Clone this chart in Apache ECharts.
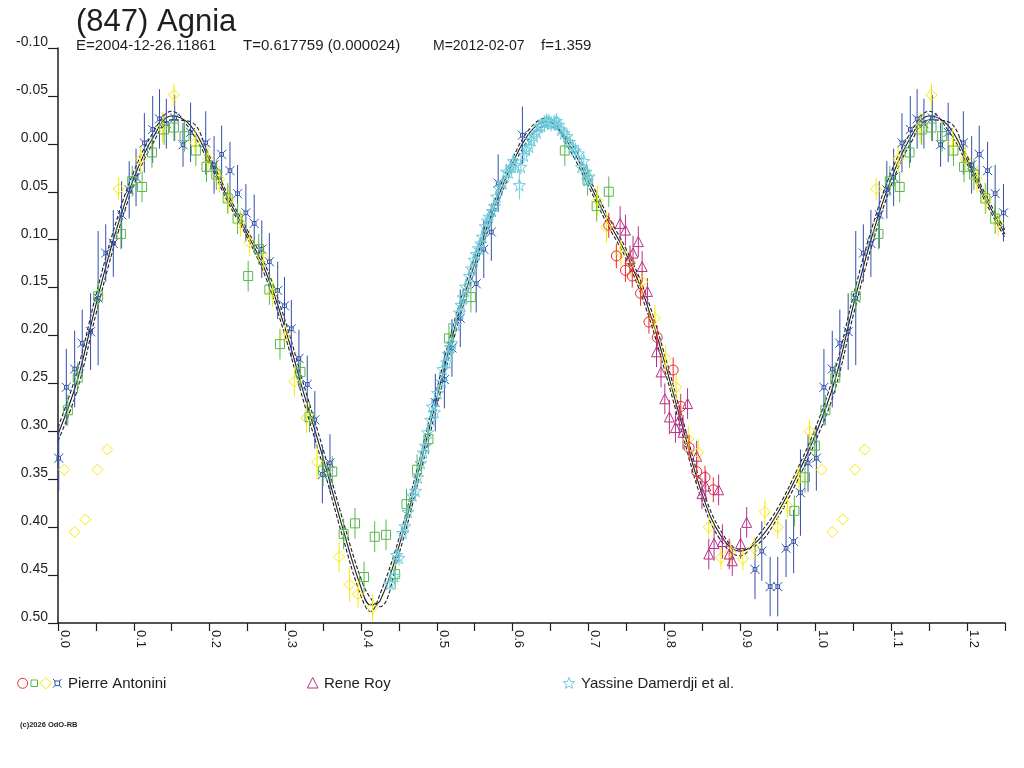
<!DOCTYPE html>
<html>
<head>
<meta charset="utf-8">
<title>(847) Agnia</title>
<script src="https://cdn.jsdelivr.net/npm/echarts@6/dist/echarts.min.js"></script>
<style>
  html, body { margin: 0; padding: 0; background: #fff; }
  #chart { width: 1024px; height: 768px; }
</style>
</head>
<body>
<div id="chart"></div>
<script>
// lightcurve (847) Agnia - phase / relative magnitude
// each point: [phase, mag, error]

const xTicks = { min: 0, max: 1.25, step: 0.05 };
const yTicks = { min: -0.10, max: 0.50, step: 0.05 };

// Pierre Antonini, session 1 (red circles)
const antoniniRed = [
  [0.727,0.085,0.013],[0.737,0.117,0.013],[0.749,0.132,0.012],[0.758,0.138,0.012],
  [0.769,0.156,0.013],[0.780,0.186,0.012],[0.791,0.202,0.012],[0.812,0.236,0.013],
  [0.822,0.274,0.013],[0.833,0.317,0.013],[0.843,0.342,0.012],[0.854,0.348,0.012],
  [0.865,0.361,0.013]
];

// Pierre Antonini, session 2 (green squares)
const antoniniGreen = [
  [0.013,0.278,0.016],[0.026,0.244,0.016],[0.053,0.159,0.016],[0.083,0.094,0.016],
  [0.098,0.039,0.016],[0.111,0.045,0.016],[0.124,0.009,0.016],[0.140,-0.015,0.016],
  [0.153,-0.017,0.014],[0.167,-0.008,0.016],[0.182,0.007,0.016],[0.196,0.024,0.016],
  [0.209,0.032,0.016],[0.224,0.057,0.016],[0.237,0.078,0.016],[0.251,0.138,0.016],
  [0.265,0.110,0.016],[0.279,0.152,0.016],[0.293,0.209,0.016],[0.320,0.238,0.016],
  [0.332,0.285,0.016],[0.350,0.341,0.016],[0.362,0.342,0.016],[0.377,0.407,0.016],
  [0.392,0.396,0.016],[0.404,0.452,0.016],[0.418,0.410,0.016],[0.433,0.408,0.016],
  [0.445,0.449,0.016],[0.460,0.376,0.016],[0.474,0.340,0.016],[0.489,0.308,0.016],
  [0.516,0.203,0.016],[0.545,0.160,0.016],[0.669,0.007,0.016],[0.699,0.038,0.016],
  [0.711,0.065,0.016],[0.727,0.050,0.016],[0.972,0.383,0.016],[0.986,0.348,0.016],
  [0.999,0.315,0.016]
];

// Pierre Antonini, session 3 (yellow diamonds)
const antoniniYellow = [
  [0.008,0.340,0],[0.022,0.405,0],[0.036,0.392,0],[0.052,0.340,0],[0.065,0.319,0],
  [0.080,0.047,0.012],[0.109,0.016,0.014],[0.138,-0.017,0.016],[0.153,-0.051,0.012],
  [0.181,-0.001,0.014],[0.198,0.016,0.014],[0.213,0.037,0.014],[0.225,0.058,0.014],
  [0.241,0.083,0.014],[0.253,0.103,0.014],[0.271,0.119,0.014],[0.283,0.156,0.014],
  [0.299,0.201,0.012],[0.312,0.248,0.016],[0.328,0.286,0.016],[0.342,0.332,0.018],
  [0.371,0.431,0.016],[0.385,0.460,0.018],[0.396,0.470,0.014],[0.415,0.484,0.014],
  [0.712,0.059,0.016],[0.724,0.087,0.016],[0.743,0.114,0.014],[0.756,0.124,0.014],
  [0.771,0.144,0.014],[0.788,0.182,0.014],[0.802,0.224,0.014],[0.816,0.254,0.014],
  [0.832,0.308,0.014],[0.845,0.322,0.014],[0.859,0.400,0.011],[0.875,0.432,0.012],
  [0.888,0.426,0.012],[0.904,0.433,0.012],[0.919,0.422,0.012],[0.933,0.384,0.013],
  [0.950,0.400,0.012],[0.963,0.378,0.012],[0.978,0.349,0.012],[0.992,0.300,0.012]
];

// Pierre Antonini, session 4 (blue)
const antoniniBlue = [
  [0.001,0.328,0.034],[0.011,0.254,0.04],[0.022,0.235,0.04],[0.032,0.208,0.035],
  [0.043,0.196,0.04],[0.053,0.161,0.07],[0.063,0.114,0.03],[0.073,0.104,0.035],
  [0.084,0.074,0.035],[0.094,0.048,0.03],[0.103,0.035,0.03],[0.114,-0.001,0.031],
  [0.125,-0.015,0.035],[0.134,-0.026,0.031],[0.143,-0.021,0.026],[0.154,-0.027,0.024],
  [0.165,0.001,0.023],[0.175,-0.012,0.031],[0.195,-0.001,0.033],[0.206,0.022,0.03],
  [0.216,0.011,0.03],[0.227,0.028,0.03],[0.237,0.052,0.03],[0.248,0.072,0.03],
  [0.259,0.083,0.03],[0.269,0.110,0.03],[0.279,0.123,0.03],[0.290,0.153,0.03],
  [0.299,0.169,0.03],[0.308,0.193,0.03],[0.318,0.224,0.03],[0.329,0.251,0.03],
  [0.339,0.288,0.03],[0.349,0.345,0.03],[0.359,0.333,0.03],
  [0.498,0.270,0.03],[0.510,0.246,0.03],[0.520,0.213,0.03],[0.531,0.182,0.03],
  [0.552,0.146,0.03],[0.562,0.110,0.03],[0.572,0.092,0.03],[0.581,0.041,0.03],
  [0.613,-0.009,0.03],
  [0.920,0.444,0.031],[0.929,0.425,0.031],[0.940,0.462,0.031],[0.950,0.462,0.031],
  [0.961,0.422,0.03],[0.971,0.415,0.033],[0.980,0.364,0.045],[0.990,0.333,0.03]
];

// Rene Roy (triangles)
const reneRoy = [
  [0.742,0.083,0.018],[0.749,0.090,0.016],[0.755,0.120,0.014],[0.759,0.114,0.018],
  [0.766,0.102,0.016],[0.771,0.128,0.016],[0.778,0.154,0.014],[0.790,0.217,0.016],
  [0.796,0.238,0.016],[0.801,0.266,0.016],[0.807,0.285,0.018],[0.815,0.296,0.016],
  [0.820,0.288,0.016],[0.825,0.301,0.018],[0.831,0.271,0.016],[0.843,0.326,0.016],
  [0.850,0.365,0.016],[0.855,0.357,0.016],[0.859,0.428,0.016],[0.866,0.417,0.018],
  [0.872,0.361,0.016],[0.877,0.415,0.018],[0.886,0.428,0.016],[0.890,0.435,0.016],
  [0.901,0.417,0.016],[0.909,0.395,0.016]
];

// Yassine Damerdji et al. (stars)
const damerdji = [
  [0.438,0.459,0.008],[0.444,0.451,0.008],[0.447,0.429,0.008],[0.450,0.432,0.008],
  [0.455,0.406,0.008],[0.458,0.399,0.008],[0.462,0.384,0.008],[0.468,0.367,0.008],
  [0.472,0.362,0.008],[0.475,0.348,0.008],[0.479,0.333,0.008],[0.482,0.322,0.008],
  [0.485,0.315,0.008],[0.488,0.301,0.008],[0.492,0.288,0.008],[0.494,0.274,0.008],
  [0.497,0.280,0.008],[0.501,0.260,0.008],[0.507,0.248,0.008],[0.508,0.235,0.008],
  [0.513,0.228,0.008],[0.515,0.219,0.008],[0.518,0.212,0.008],[0.520,0.208,0.008],
  [0.525,0.189,0.008],[0.530,0.176,0.008],[0.532,0.168,0.008],[0.535,0.160,0.008],
  [0.538,0.149,0.008],[0.543,0.138,0.008],[0.546,0.130,0.008],[0.549,0.121,0.008],
  [0.552,0.115,0.008],[0.555,0.109,0.008],[0.558,0.104,0.008],[0.560,0.097,0.008],
  [0.564,0.086,0.008],[0.567,0.080,0.008],[0.569,0.076,0.008],[0.573,0.070,0.008],
  [0.576,0.065,0.008],[0.579,0.055,0.008],[0.582,0.046,0.008],[0.587,0.041,0.008],
  [0.592,0.029,0.008],[0.595,0.030,0.008],[0.598,0.024,0.008],[0.601,0.018,0.008],
  [0.604,0.022,0.008],[0.609,0.043,0.015],[0.611,0.024,0.008],[0.615,0.012,0.008],
  [0.618,0.006,0.008],[0.622,0.003,0.008],[0.625,-0.004,0.008],[0.628,-0.008,0.008],
  [0.632,-0.012,0.008],[0.635,-0.018,0.008],[0.638,-0.019,0.008],[0.642,-0.022,0.008],
  [0.645,-0.024,0.008],[0.648,-0.023,0.008],[0.651,-0.021,0.008],[0.655,-0.022,0.008],
  [0.658,-0.024,0.008],[0.661,-0.020,0.008],[0.664,-0.015,0.008],[0.668,-0.011,0.008],
  [0.672,-0.008,0.008],[0.675,-0.002,0.008],[0.679,0.003,0.008],[0.683,0.007,0.008],
  [0.687,0.010,0.008],[0.691,0.024,0.008],[0.694,0.018,0.008],[0.697,0.029,0.008],
  [0.699,0.038,0.008],[0.701,0.034,0.008]
];

// fitted curve and its two envelope curves
const curvePhase = [0.000,0.025,0.050,0.075,0.100,0.125,0.150,0.175,0.200,0.225,0.250,0.275,0.300,
  0.325,0.350,0.375,0.400,0.4125,0.425,0.450,0.475,0.500,0.525,0.550,0.575,0.600,0.625,0.645,
  0.675,0.700,0.725,0.750,0.775,0.800,0.825,0.850,0.875,0.900,0.925,0.950,0.975,1.000];
const curveMid = [0.303,0.248,0.168,0.095,0.036,-0.006,-0.029,-0.019,0.017,0.058,0.094,0.135,0.193,
  0.262,0.328,0.399,0.463,0.481,0.477,0.420,0.345,0.265,0.188,0.125,0.068,0.020,-0.014,-0.023,
  0.001,0.039,0.079,0.115,0.162,0.226,0.297,0.365,0.409,0.425,0.413,0.385,0.347,0.303];
const curveUpper = [0.296,0.238,0.158,0.086,0.029,-0.011,-0.034,-0.014,0.021,0.062,0.098,0.141,0.201,
  0.271,0.337,0.408,0.472,0.488,0.470,0.412,0.336,0.256,0.180,0.118,0.062,0.015,-0.018,-0.027,
  0.006,0.044,0.084,0.120,0.169,0.234,0.305,0.372,0.414,0.430,0.408,0.380,0.341,0.296];
const curveLower = [0.310,0.258,0.178,0.104,0.043,0.000,-0.025,-0.023,0.013,0.054,0.090,0.129,0.185,
  0.253,0.319,0.390,0.454,0.474,0.483,0.428,0.354,0.274,0.196,0.132,0.074,0.026,-0.009,-0.019,
  -0.003,0.034,0.074,0.110,0.155,0.218,0.289,0.358,0.404,0.423,0.417,0.390,0.353,0.310];

const INK = '#1e1e1e';
const FONT = '"Liberation Sans", Arial, sans-serif';
const colors = {
  red: '#ee2a2a', green: '#55b848', yellow: '#f8ea00', blue: '#3050a8',
  magenta: '#b83088', cyan: '#6ccbdc'
};

// phases are drawn once more past 1.0 (up to 1.25)
const wrap = arr => arr.concat(
  arr.filter(d => d[0] > 0 && d[0] + 1 <= xTicks.max).map(d => [d[0] + 1, d[1], d[2]])
);
const curvePoints = mags => wrap(curvePhase.map((p, i) => [p, mags[i], 0])).map(d => [d[0], d[1]]);

const bluePath = 'path://M0,0L3,3M10,0L7,3M0,10L3,7M10,10L7,7M3,3L7,3L7,7L3,7Z';
const starPath = 'path://M5,0L6.2,3.6L10,3.8L7,6.1L8.1,9.8L5,7.6L1.9,9.8L3,6.1L0,3.8L3.8,3.6Z';

function errorSeries(arr, color) {
  return {
    type: 'custom',
    silent: true,
    z: 2,
    data: wrap(arr).filter(d => d[2] > 0).map(d => [d[0], d[1] - d[2], d[1] + d[2]]),
    encode: { x: 0, y: [1, 2] },
    renderItem: (params, api) => {
      const a = api.coord([api.value(0), api.value(1)]);
      const b = api.coord([api.value(0), api.value(2)]);
      return {
        type: 'line',
        shape: { x1: a[0], y1: a[1], x2: b[0], y2: b[1] },
        style: { stroke: color, lineWidth: 1 }
      };
    }
  };
}

function pointSeries(name, arr, color, symbol, size) {
  return {
    name,
    type: 'scatter',
    z: 3,
    symbol,
    symbolSize: size,
    data: wrap(arr).map(d => [d[0], d[1]]),
    itemStyle: { color: 'rgba(0,0,0,0)', borderColor: color, borderWidth: 1, opacity: 1 }
  };
}

function curveSeries(mags, dashed) {
  return {
    type: 'line',
    z: 1,
    silent: true,
    smooth: 0.4,
    showSymbol: false,
    data: curvePoints(mags),
    lineStyle: { color: INK, width: 1.1, type: dashed ? [4, 2] : 'solid' }
  };
}

// star for the legend
const starPts = [];
for (let i = 0; i < 10; i++) {
  const r = i % 2 === 0 ? 6 : 2.6;
  const a = -Math.PI / 2 + i * Math.PI / 5;
  starPts.push([569 + r * Math.cos(a), 683.5 + r * Math.sin(a)]);
}

const chart = echarts.init(document.getElementById('chart'));
const option = {
  backgroundColor: '#fff',
  animation: false,
  grid: { left: 58, right: 19, top: 48, bottom: 145, containLabel: false },
  xAxis: {
    type: 'value',
    min: xTicks.min, max: xTicks.max, interval: xTicks.step,
    splitLine: { show: false },
    axisLine: { onZero: false, lineStyle: { color: INK, width: 1.5 } },
    axisTick: { length: 8, lineStyle: { color: INK, width: 1.2 } },
    axisLabel: {
      rotate: -90, margin: 7, align: 'left', verticalAlign: 'bottom',
      color: INK, fontFamily: FONT, fontSize: 13,
      formatter: v => {
        const k = Math.round(v / xTicks.step);
        return k % 2 === 0 ? (k * xTicks.step).toFixed(1) : '';
      }
    }
  },
  yAxis: {
    type: 'value',
    inverse: true,
    min: yTicks.min, max: yTicks.max, interval: yTicks.step,
    splitLine: { show: false },
    axisLine: { onZero: false, lineStyle: { color: INK, width: 1.5 } },
    axisTick: { length: 10, lineStyle: { color: INK, width: 1.2 } },
    axisLabel: {
      margin: 10, verticalAlign: 'bottom', lineHeight: 12,
      color: INK, fontFamily: FONT, fontSize: 14,
      formatter: v => (Math.abs(v) < 1e-9 ? 0 : v).toFixed(2)
    }
  },
  series: [
    curveSeries(curveUpper, true),
    curveSeries(curveLower, true),
    curveSeries(curveMid, false),
    errorSeries(antoniniBlue, colors.blue),
    errorSeries(antoniniGreen, colors.green),
    errorSeries(antoniniYellow, colors.yellow),
    errorSeries(antoniniRed, colors.red),
    errorSeries(reneRoy, colors.magenta),
    errorSeries(damerdji, colors.cyan),
    pointSeries('Antonini 4', antoniniBlue, colors.blue, bluePath, 9),
    pointSeries('Antonini 2', antoniniGreen, colors.green, 'rect', 9),
    pointSeries('Antonini 3', antoniniYellow, colors.yellow, 'diamond', 11),
    pointSeries('Antonini 1', antoniniRed, colors.red, 'circle', 10),
    pointSeries('Rene Roy', reneRoy, colors.magenta, 'triangle', 10),
    pointSeries('Yassine Damerdji et al.', damerdji, colors.cyan, starPath, 12)
  ],
  graphic: [
    { type: 'text', left: 76, top: 7, style: { text: '(847) Agnia', font: '31px ' + FONT, fill: INK } },
    { type: 'text', x: 76, y: 46, style: { text: 'E=2004-12-26.11861', font: '15px ' + FONT, fill: INK, textVerticalAlign: 'middle' } },
    { type: 'text', x: 243, y: 46, style: { text: 'T=0.617759 (0.000024)', font: '15px ' + FONT, fill: INK, textVerticalAlign: 'middle' } },
    { type: 'text', x: 433, y: 46, style: { text: 'M=2012-02-07', font: '14px ' + FONT, fill: INK, textVerticalAlign: 'middle' } },
    { type: 'text', x: 541, y: 46, style: { text: 'f=1.359', font: '15px ' + FONT, fill: INK, textVerticalAlign: 'middle' } },

    // legend
    { type: 'circle', shape: { cx: 22.7, cy: 683.3, r: 5 }, style: { fill: 'none', stroke: colors.red, lineWidth: 1 } },
    { type: 'rect', shape: { x: 31, y: 680, width: 6.5, height: 6.5 }, style: { fill: 'none', stroke: colors.green, lineWidth: 1 } },
    { type: 'polygon', shape: { points: [[45.7, 677.5], [51.5, 683.3], [45.7, 689], [40, 683.3]] }, style: { fill: 'none', stroke: colors.yellow, lineWidth: 1 } },
    { type: 'rect', shape: { x: 55, y: 681, width: 4.6, height: 4.6 }, style: { fill: 'none', stroke: colors.blue, lineWidth: 1 } },
    { type: 'polyline', shape: { points: [[53, 679], [55, 681]] }, style: { stroke: colors.blue, lineWidth: 1 } },
    { type: 'polyline', shape: { points: [[61.6, 679], [59.6, 681]] }, style: { stroke: colors.blue, lineWidth: 1 } },
    { type: 'polyline', shape: { points: [[53, 687.6], [55, 685.6]] }, style: { stroke: colors.blue, lineWidth: 1 } },
    { type: 'polyline', shape: { points: [[61.6, 687.6], [59.6, 685.6]] }, style: { stroke: colors.blue, lineWidth: 1 } },
    { type: 'text', x: 68, y: 683.5, style: { text: 'Pierre Antonini', font: '15px ' + FONT, fill: INK, textVerticalAlign: 'middle' } },

    { type: 'polygon', shape: { points: [[312.7, 677.5], [318, 688], [307.4, 688]] }, style: { fill: 'none', stroke: colors.magenta, lineWidth: 1 } },
    { type: 'text', x: 324, y: 683.5, style: { text: 'Rene Roy', font: '15px ' + FONT, fill: INK, textVerticalAlign: 'middle' } },

    { type: 'polygon', shape: { points: starPts }, style: { fill: 'none', stroke: colors.cyan, lineWidth: 1 } },
    { type: 'text', x: 581, y: 683.5, style: { text: 'Yassine Damerdji et al.', font: '15px ' + FONT, fill: INK, textVerticalAlign: 'middle' } },

    { type: 'text', x: 20, y: 725, style: { text: '(c)2026 OdO-RB', font: 'bold 7.5px ' + FONT, fill: INK, textVerticalAlign: 'middle' } }
  ]
};
chart.setOption(option);
</script>
</body>
</html>
